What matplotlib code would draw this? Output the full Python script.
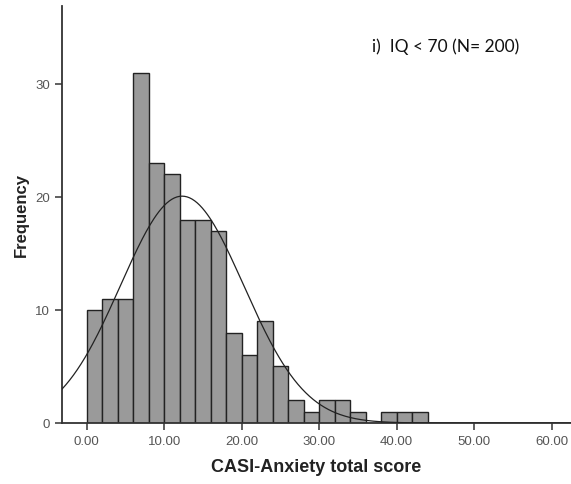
import numpy as np
import matplotlib.pyplot as plt

# histogram bins (width 2) and counts
bin_edges = np.arange(0, 46, 2)
counts = [10, 11, 11, 31, 23, 22, 18, 18, 17, 8, 6, 9, 5, 2, 1, 2, 2, 1, 0, 1, 1, 1]
n_total = 200
curve_mean = 12.3  # fitted normal curve
curve_sd = 7.95
x_ticks = [0, 10, 20, 30, 40, 50, 60]
y_ticks = [0, 10, 20, 30]

plt.rcParams['font.family'] = ['Liberation Sans', 'DejaVu Sans']

fig = plt.figure(figsize=(5.71, 4.85), dpi=100)
ax = fig.add_axes([0.1086, 0.1258, 0.8914, 0.8598])

ax.bar(bin_edges[:-1], counts, width=2, align='edge', color='#9a9a9a',
       edgecolor='#222222', linewidth=1.0, zorder=2)

xs = np.linspace(-3.2, 62.5, 400)
ys = n_total * 2 / (curve_sd * np.sqrt(2 * np.pi)) * np.exp(-0.5 * ((xs - curve_mean) / curve_sd) ** 2)
ax.plot(xs, ys, color='#222222', linewidth=0.9, zorder=3)

ax.set_xlim(-3.2, 62.5)
ax.set_ylim(0, 36.9)
ax.set_xticks(x_ticks)
ax.set_xticklabels([f'{t:.2f}' for t in x_ticks])
ax.set_yticks(y_ticks)

for s in ['top', 'right']:
    ax.spines[s].set_visible(False)
for s in ['left', 'bottom']:
    ax.spines[s].set_color('#333333')
    ax.spines[s].set_linewidth(1.3)
ax.tick_params(axis='both', direction='out', length=5, width=1.2, color='#444444',
               labelcolor='#555555', labelsize=9.5)

ax.set_xlabel('CASI-Anxiety total score', fontsize=13, fontweight='bold', color='#222222', labelpad=8)
ax.set_ylabel('Frequency', fontsize=12, fontweight='bold', color='#222222', labelpad=5)

ax.text(0.609, 0.893, 'i)  IQ < 70 (N= 200)', transform=ax.transAxes, fontsize=12.5,
        family=['Lato', 'DejaVu Sans'], color='#111111')

fig.savefig('out.png', dpi=100)
